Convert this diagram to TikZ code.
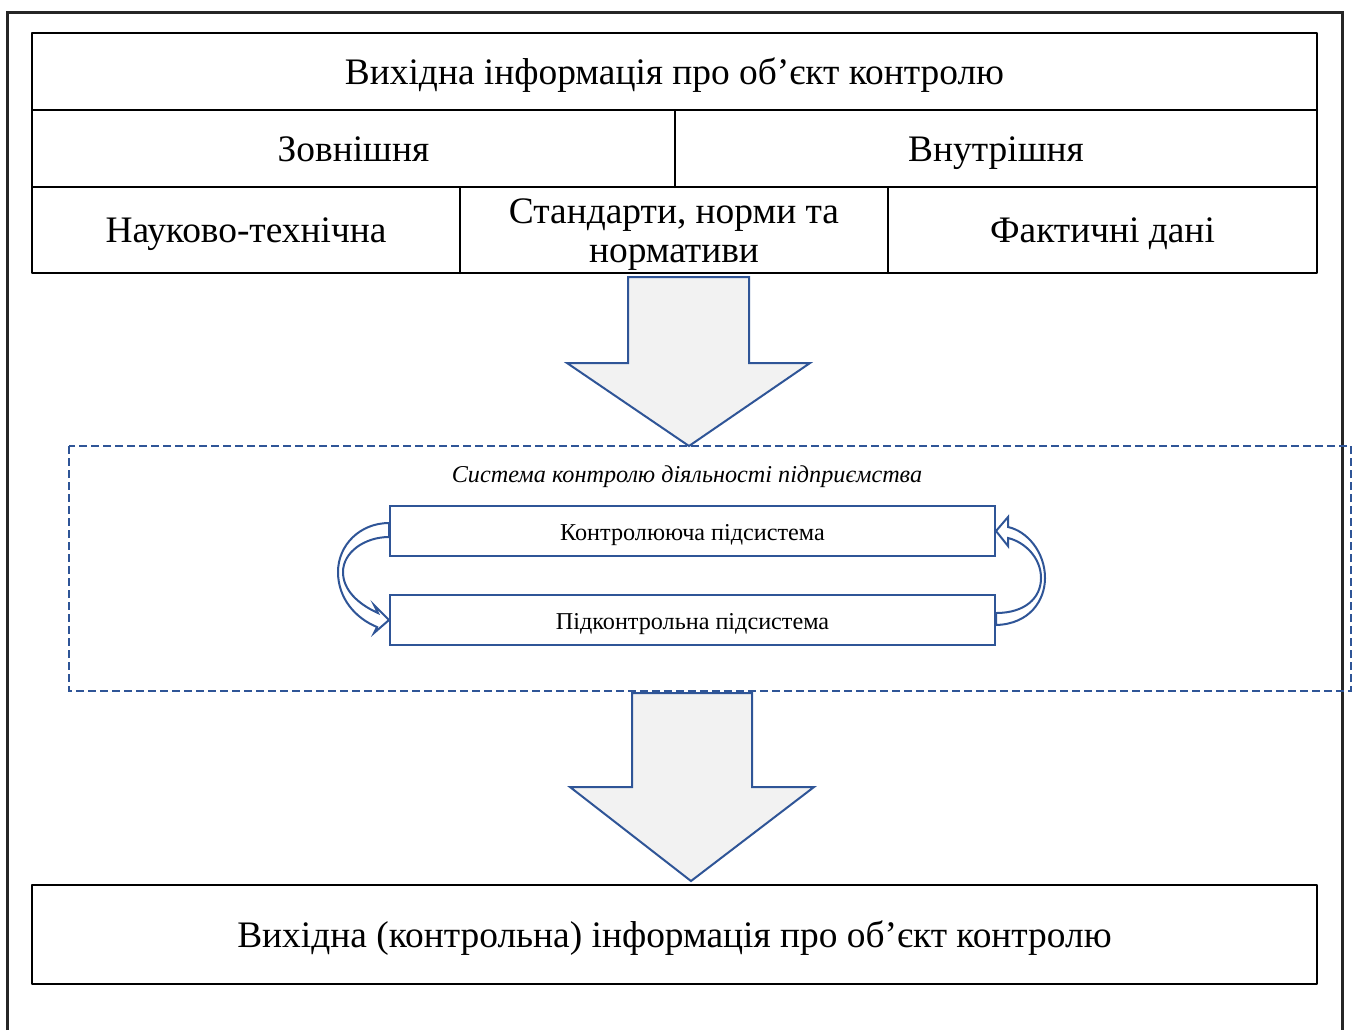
\documentclass[tikz,border=0pt]{standalone}
\usepackage{fontspec}
\setmainfont{Liberation Serif}
\usepackage{tkz-euclide}
\definecolor{shapeblue}{HTML}{2F5597}
\definecolor{shapefill}{HTML}{F2F2F2}

\begin{document}
\begin{tikzpicture}[x=0.5pt,y=-0.5pt,
    bigtext/.style={font=\fontsize{18.7}{19.5}\selectfont,align=center},
    celltext/.style={bigtext,text height=16pt,text depth=3.5pt},
    smalltext/.style={font=\fontsize{12.1}{14}\selectfont},
    bigarrow/.style={draw=shapeblue,fill=shapefill,line width=1pt,line join=miter},
    looparrow/.style={draw=shapeblue,fill=white,line width=1pt,line join=miter},
    subbox/.style={draw=shapeblue,line width=1pt,smalltext,text height=10pt,text depth=1pt,
        minimum width=302.5pt,minimum height=25pt,inner sep=0pt}]
            \useasboundingbox (0,0) rectangle (1352,1030);
            \draw[line width=1.5pt,black!85] (7,1030) -- (7,12) -- (1342,12) -- (1342,1030);
            % table
            \tkzDefPoint(32,33){A}
            \tkzDefPoint(1317,33){B}
            \tkzDefPoint(1317,273){C}
            \tkzDefPoint(32,273){D}
            \tkzDefPoint(32,110){E}
            \tkzDefPoint(1317,110){F}
            \tkzDefPoint(32,187){G}
            \tkzDefPoint(1317,187){H}
            \tkzDefPoint(675,110){I}
            \tkzDefPoint(675,187){J}
            \tkzDefPoint(460,187){K}
            \tkzDefPoint(460,273){L}
            \tkzDefPoint(888,187){M}
            \tkzDefPoint(888,273){N}
            \tkzDrawPolygon[line width=1pt](A,B,C,D)
            \tkzDrawSegments[line width=1pt](E,F G,H I,J K,L M,N)
            \tkzDefMidPoint(A,F)
            \tkzGetPoint{T}
            \tkzDefMidPoint(E,J)
            \tkzGetPoint{U}
            \tkzDefMidPoint(I,H)
            \tkzGetPoint{V}
            \tkzDefMidPoint(G,L)
            \tkzGetPoint{W}
            \tkzDefMidPoint(K,N)
            \tkzGetPoint{X}
            \tkzDefMidPoint(M,C)
            \tkzGetPoint{Y}
            \node[celltext] (input) at (T) {Вихідна інформація про об’єкт контролю};
            \node[celltext] (outer) at (U) {Зовнішня};
            \node[celltext] (inner) at (V) {Внутрішня};
            \node[celltext] (science) at (W) {Науково-технічна};
            \node[bigtext,yshift=-2.5pt] (norms) at (X) {Стандарти, норми та\\нормативи};
            \node[celltext] (facts) at (Y) {Фактичні дані};
            % control system
            \draw[shapeblue,line width=1pt,dash pattern=on 4pt off 2pt] (69,446) rectangle (1351,691);
            \filldraw[bigarrow] (628,277) -- (749,277) -- (749,363) -- (810,363) -- (689,446)
                -- (567,363) -- (628,363) -- cycle;
            \node[smalltext,font=\fontsize{12.1}{14}\selectfont\itshape,anchor=base] (system) at (687,482)
                {Система контролю діяльності підприємства};
            \node[subbox] (ctrl) at (692.5,531) {Контролююча підсистема};
            \node[subbox] (sub) at (692.5,620) {Підконтрольна підсистема};
            \filldraw[looparrow] ([yshift=4pt]ctrl.west) .. controls (360,523) and (338,545) .. (338,572)
                .. controls (338,598) and (355,618) .. (377,627) -- (374,633) -- (sub.west) -- (374,605)
                -- (378,613) .. controls (358,604) and (343,590) .. (343,572)
                .. controls (343,552) and (365,537) .. ([yshift=-3pt]ctrl.west) -- cycle;
            \filldraw[looparrow] ([yshift=-2.5pt]sub.east) .. controls (1030,624) and (1045,600) .. (1045,578)
                .. controls (1045,552) and (1027,531) .. (1008,527) -- (1008,517) -- (ctrl.east) -- (1008,546)
                -- (1008,538) .. controls (1025,542) and (1041,558) .. (1041,578)
                .. controls (1041,598) and (1025,613) .. ([yshift=3.5pt]sub.east) -- cycle;
            % output
            \filldraw[bigarrow] (632,693) -- (752,693) -- (752,787) -- (814,787) -- (691,881)
                -- (570,787) -- (632,787) -- cycle;
            \tkzDefPoint(32,885){P}
            \tkzDefPoint(1317,885){Q}
            \tkzDefPoint(1317,984){R}
            \tkzDefPoint(32,984){S}
            \tkzDrawPolygon[line width=1pt](P,Q,R,S)
            \tkzDefMidPoint(P,R)
            \tkzGetPoint{Z}
            \node[celltext] (output) at (Z) {Вихідна (контрольна) інформація про об’єкт контролю};
        \end{tikzpicture}
\end{document}
